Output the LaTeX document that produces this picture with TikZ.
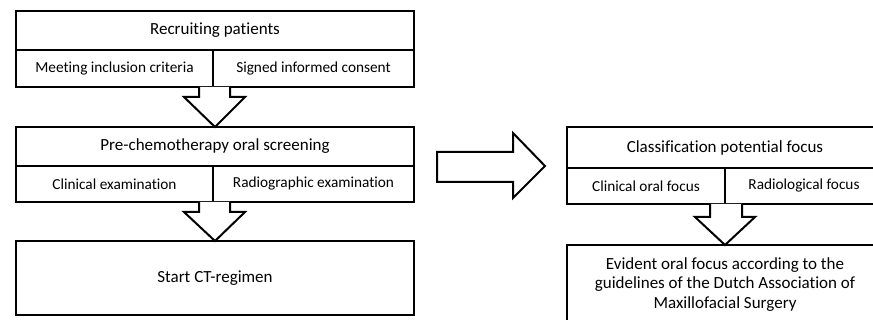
\documentclass[tikz,border=0pt]{standalone}
\usepackage{fontspec}
\setmainfont[Ligatures={NoCommon}]{Carlito}
\usetikzlibrary{calc}
\tikzset{
  cell/.style={draw=black, line width=2pt, fill=white, inner sep=0pt, outer sep=0pt, align=center, anchor=north west},
  title/.style={font=\fontsize{17}{19.5}\selectfont},
  sub/.style={font=\fontsize{15.3}{18}\selectfont},
  blockarrow/.style={draw=black, line width=2pt, fill=white, line join=miter},
}
\begin{document}
\begin{tikzpicture}[x=1pt,y=-1pt]
\useasboundingbox (0,0) rectangle (873,320);
\clip (0,0) rectangle (873,320);
\fill[white] (0,0) rectangle (873,320);
% left column
\node[cell,title,minimum width=398pt,minimum height=39pt] (rec) at (16,11) {Recruiting patients};
\node[cell,sub,minimum width=197pt,minimum height=37pt] (meet) at (16,50) {Meeting inclusion criteria};
\node[cell,sub,minimum width=201pt,minimum height=37pt] (sign) at (213,50) {Signed informed consent};
\node[cell,title,minimum width=398pt,minimum height=39pt] (pre) at (16,127) {Pre-chemotherapy oral screening};
\node[cell,sub,minimum width=197pt,minimum height=36pt] (clin) at (16,166) {Clinical examination};
\node[cell,sub,minimum width=201pt,minimum height=36pt] (radio) at (213,166) {Radiographic examination};
\node[cell,title,minimum width=398pt,minimum height=74pt] (start) at (16,241) {Start CT-regimen};
% right column
\node[cell,title,minimum width=316pt,minimum height=41pt] (cls) at (567,127) {Classification potential focus};
\node[cell,sub,minimum width=158pt,minimum height=36pt] (cof) at (567,168) {Clinical oral focus};
\node[cell,sub,minimum width=158pt,minimum height=36pt] (rf) at (725,168) {Radiological focus};
\node[cell,title,minimum width=316pt,minimum height=79pt] (evid) at (567,245) {Evident oral focus according to the\\guidelines of the Dutch Association of\\Maxillofacial Surgery};
% down block arrows
\draw[blockarrow] ($(meet.south east)+(-14,0)$) -- ++(0,10) -- ++(-15,0) -- (pre.north) -- ($(meet.south east)+(32,10)$) -- ++(-15,0) -- ++(0,-10);
\draw[blockarrow] ($(clin.south east)+(-14,0)$) -- ++(0,10) -- ++(-15,0) -- (start.north) -- ($(clin.south east)+(32,10)$) -- ++(-15,0) -- ++(0,-10);
\draw[blockarrow] ($(cof.south east)+(-15,0)$) -- ++(0,13) -- ++(-15,0) -- ($(evid.north west)+(158,0)$) -- ($(cof.south east)+(30,13)$) -- ++(-13,0) -- ++(0,-13);
% right block arrow
\coordinate (rtail) at (437,167);
\coordinate (rtip) at (545,166);
\draw[blockarrow] ($(rtail)+(0,-15)$) -- ++(76,0) -- ++(0,-19) -- (rtip) -- ($(rtail)+(76,31)$) -- ++(0,-16) -- ++(-76,0) -- cycle;
\end{tikzpicture}
\end{document}
